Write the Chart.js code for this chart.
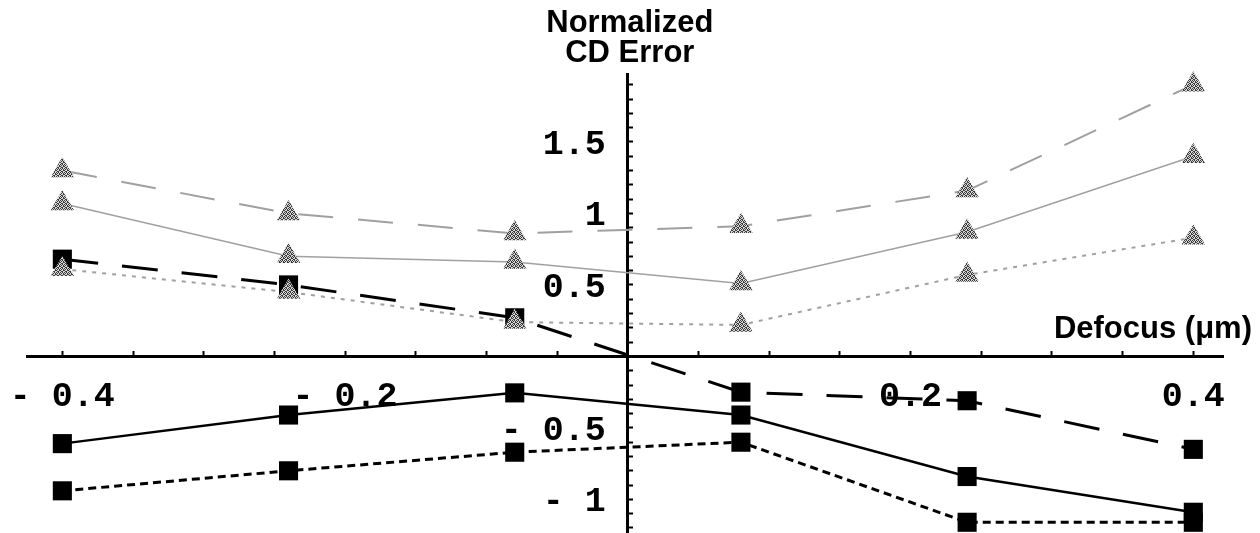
<!DOCTYPE html>
<html>
<head>
  <title>Normalized CD Error vs Defocus</title>
  <script src="https://cdn.jsdelivr.net/npm/chart.js"></script>
  <style>
    body { margin: 0; background: #fff; }
    #wrap { width: 1260px; height: 533px; }
  </style>
</head>
<body>
  <div id="wrap"><canvas id="cdChart"></canvas></div>

  <script>
    // defocus positions (um)
    const defocus = [-0.4, -0.24, -0.08, 0.08, 0.24, 0.4];

    // gray triangles
    const triDashed = [1.30, 1.00, 0.86, 0.91, 1.16, 1.90];
    const triSolid  = [1.07, 0.70, 0.66, 0.51, 0.87, 1.40];
    const triDotted = [0.61, 0.45, 0.24, 0.22, 0.57, 0.83];

    // black squares
    const sqDashed = [0.68, 0.50, 0.27, -0.25, -0.31, -0.65];
    const sqSolid  = [-0.61, -0.41, -0.255, -0.41, -0.84, -1.09];
    const sqDotted = [-0.94, -0.80, -0.67, -0.60, -1.16, -1.16];

    // tick labels
    const xLabelValues = [-0.4, -0.2, 0.2, 0.4];
    const xLabelTexts  = ["- 0.4", "- 0.2", "0.2", "0.4"];
    const yLabelValues = [1.5, 1, 0.5, -0.5, -1];
    const yLabelTexts  = ["1.5", "1", "0.5", "- 0.5", "- 1"];

    // small tick marks along the axes
    const xMarks = [];
    for (let i = -8; i <= 8; i++) xMarks.push(i * 0.05);
    const yMarks = [];
    for (let i = -12; i <= 19; i++) yMarks.push(i * 0.1);

    function stipple() {
      const c = document.createElement("canvas");
      c.width = 4; c.height = 4;
      const g = c.getContext("2d");
      g.fillStyle = "#d8d8d8";
      g.fillRect(0, 0, 4, 4);
      g.fillStyle = "#3a3a3a";
      [[0,0],[2,0],[1,1],[3,1],[0,2],[3,2],[1,3],[2,3]].forEach(p => g.fillRect(p[0], p[1], 1, 1));
      return g.createPattern(c, "repeat");
    }
    const grayFill = stipple();

    const pts = ys => defocus.map((x, i) => ({ x: x, y: ys[i] }));

    function tri(ys, dash, width) {
      return {
        data: pts(ys),
        borderColor: "#a0a0a0",
        borderWidth: width,
        borderDash: dash,
        pointStyle: "triangle",
        pointRadius: 13.5,
        pointBackgroundColor: grayFill,
        pointBorderWidth: 0,
        tension: 0,
        clip: false
      };
    }
    function sq(ys, dash, width) {
      return {
        data: pts(ys),
        borderColor: "#000",
        borderWidth: width,
        borderDash: dash,
        pointStyle: "rect",
        pointRadius: 13.5,
        pointBackgroundColor: "#000",
        pointBorderWidth: 0,
        tension: 0,
        clip: false
      };
    }

    const labelsPlugin = {
      id: "labels",
      afterDraw(chart) {
        const ctx = chart.ctx;
        const xs = chart.scales.x, ys = chart.scales.y;
        const x0 = xs.getPixelForValue(0), y0 = ys.getPixelForValue(0);
        ctx.save();
        ctx.fillStyle = "#000";
        ctx.font = "bold 35px 'Liberation Mono', monospace";
        ctx.textBaseline = "alphabetic";
        ctx.textAlign = "center";
        xLabelValues.forEach((v, i) => ctx.fillText(xLabelTexts[i], xs.getPixelForValue(v), y0 + 50));
        ctx.textAlign = "right";
        yLabelValues.forEach((v, i) => ctx.fillText(yLabelTexts[i], x0 - 22, ys.getPixelForValue(v) + 12));

        ctx.font = "bold 31px 'Liberation Sans', Arial, sans-serif";
        ctx.textAlign = "center";
        ctx.fillText("Normalized", x0 + 2, 32);
        ctx.fillText("CD Error", x0 + 2, 62);
        ctx.textAlign = "right";
        ctx.fillText("Defocus (\u03bcm)", 1252, 338);
        ctx.restore();
      }
    };

    new Chart(document.getElementById("cdChart"), {
      type: "line",
      data: {
        datasets: [
          tri(triDashed, [35, 25], 2),
          tri(triSolid, [], 1.5),
          tri(triDotted, [4, 6], 2),
          sq(sqDashed, [36, 24], 3),
          sq(sqSolid, [], 2.5),
          sq(sqDotted, [8, 5], 3)
        ]
      },
      options: {
        responsive: true,
        maintainAspectRatio: false,
        devicePixelRatio: 1,
        animation: false,
        layout: { autoPadding: false, padding: { left: 27, right: 37, top: 74, bottom: 0 } },
        plugins: { legend: { display: false }, title: { display: false }, tooltip: { enabled: false } },
        scales: {
          x: {
            type: "linear",
            min: -0.425,
            max: 0.421,
            position: { y: 0 },
            afterBuildTicks: s => { s.ticks = xMarks.map(v => ({ value: v })); },
            ticks: { display: false },
            grid: { drawOnChartArea: false, drawTicks: true, tickLength: -7, tickWidth: 2, color: "#000" },
            border: { display: true, color: "#000", width: 3 }
          },
          y: {
            type: "linear",
            min: -1.235,
            max: 1.975,
            position: { x: 0 },
            afterBuildTicks: s => { s.ticks = yMarks.map(v => ({ value: v })); },
            ticks: { display: false },
            grid: { drawOnChartArea: false, drawTicks: true, tickLength: -7, tickWidth: 2, color: "#000" },
            border: { display: true, color: "#000", width: 3 }
          }
        }
      },
      plugins: [labelsPlugin]
    });
  </script>
</body>
</html>
